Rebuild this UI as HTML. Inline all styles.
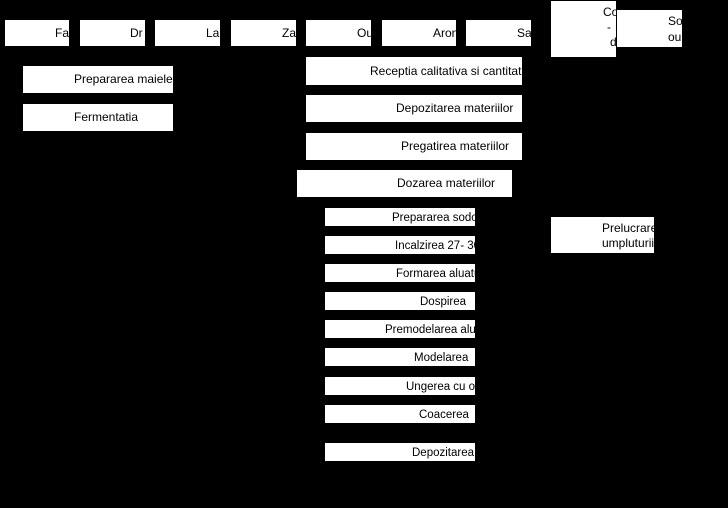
<!DOCTYPE html>
<html><head><style>
body{margin:0;background:#000;width:728px;height:508px;position:relative;overflow:hidden;font-family:"Liberation Sans",Arial,sans-serif;font-size:12px;color:#000}
.b{position:absolute;background:#fff;overflow:hidden}
.b span{position:absolute;white-space:nowrap;line-height:14px}
.s span{font-size:11.5px}
</style></head><body>
<div class="b" style="left:5px;top:20px;width:64px;height:26px"><span style="left:50px;top:6px">Fa</span></div>
<div class="b" style="left:80px;top:20px;width:65px;height:26px"><span style="left:50px;top:6px">Dr</span></div>
<div class="b" style="left:155px;top:20px;width:65px;height:26px"><span style="left:51px;top:6px">La</span></div>
<div class="b" style="left:231px;top:20px;width:65px;height:26px"><span style="left:51px;top:6px">Za</span></div>
<div class="b" style="left:306px;top:20px;width:65px;height:26px"><span style="left:51px;top:6px">Ou</span></div>
<div class="b" style="left:382px;top:20px;width:74px;height:26px"><span style="left:51px;top:6px">Aron</span></div>
<div class="b" style="left:466px;top:20px;width:65px;height:26px"><span style="left:51px;top:6px">Sa</span></div>
<div class="b" style="left:551px;top:1px;width:65px;height:56px"><span style="left:52px;top:4px">Co</span><span style="left:56px;top:19px">-</span><span style="left:59px;top:34px">d</span></div>
<div class="b" style="left:617px;top:10px;width:65px;height:37px"><span style="left:51px;top:4px">So</span><span style="left:51px;top:20px">ou</span></div>
<div class="b" style="left:23px;top:66px;width:150px;height:27px"><span style="left:51px;top:6px">Prepararea maielei</span></div>
<div class="b" style="left:23px;top:104px;width:150px;height:27px"><span style="left:51px;top:6px">Fermentatia</span></div>
<div class="b" style="left:306px;top:57px;width:216px;height:28px"><span style="left:64px;top:7px">Receptia calitativa si cantitativa</span></div>
<div class="b" style="left:306px;top:95px;width:216px;height:27px"><span style="left:90px;top:6px">Depozitarea materiilor</span></div>
<div class="b" style="left:306px;top:133px;width:216px;height:27px"><span style="left:95px;top:6px">Pregatirea materiilor</span></div>
<div class="b" style="left:297px;top:170px;width:215px;height:27px"><span style="left:100px;top:6px">Dozarea materiilor</span></div>
<div class="b s" style="left:325px;top:208px;width:150px;height:18px"><span style="left:67px;top:3px">Prepararea sodoi</span></div>
<div class="b s" style="left:325px;top:236px;width:150px;height:18px"><span style="left:70px;top:3px">Incalzirea 27- 30</span></div>
<div class="b s" style="left:325px;top:264px;width:150px;height:18px"><span style="left:71px;top:3px">Formarea aluatului</span></div>
<div class="b s" style="left:325px;top:292px;width:150px;height:18px"><span style="left:95px;top:3px">Dospirea</span></div>
<div class="b s" style="left:325px;top:320px;width:150px;height:18px"><span style="left:60px;top:3px">Premodelarea aluatului</span></div>
<div class="b s" style="left:325px;top:348px;width:150px;height:18px"><span style="left:89px;top:3px">Modelarea</span></div>
<div class="b s" style="left:325px;top:377px;width:150px;height:18px"><span style="left:81px;top:3px">Ungerea cu ou</span></div>
<div class="b s" style="left:325px;top:405px;width:150px;height:18px"><span style="left:94px;top:3px">Coacerea</span></div>
<div class="b s" style="left:325px;top:443px;width:150px;height:18px"><span style="left:87px;top:3px">Depozitarea</span></div>
<div class="b" style="left:551px;top:217px;width:103px;height:36px"><span style="left:51px;top:4px">Prelucrarea</span><span style="left:51px;top:19px">umpluturii</span></div>
</body></html>
